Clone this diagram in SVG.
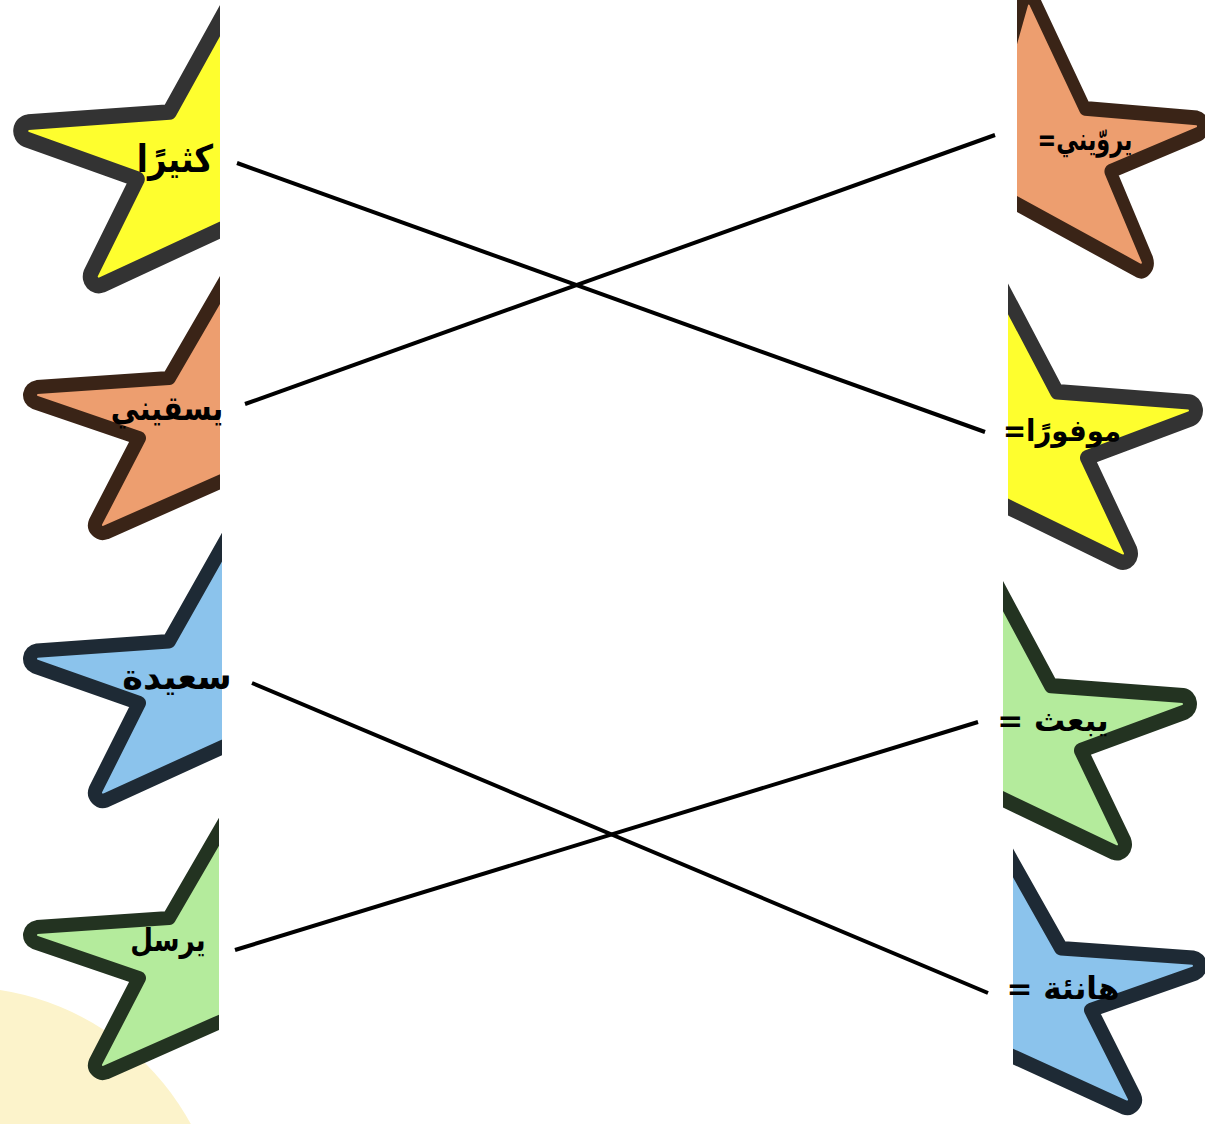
<svg xmlns="http://www.w3.org/2000/svg" xmlns:xlink="http://www.w3.org/1999/xlink" width="1205" height="1124" viewBox="0 0 1205 1124">
<style>
.lbl{font-family:"DejaVu Sans",sans-serif;font-weight:bold;fill:#000;text-anchor:middle;direction:rtl}
.conn{stroke:#000;stroke-width:4;fill:none}
.yel{fill:#fefe2e;stroke:#333333}
.ora{fill:#ed9e6f;stroke:#3a2417}
.blu{fill:#8bc3ec;stroke:#1e2a35}
.grn{fill:#b4eb9c;stroke:#233321}
.st{stroke-width:14;stroke-linejoin:round}
</style>
<defs>
<path id="star" d="M65.4,-94.5 L6,8 L-126,17.1 A8 8 0 0 0 -128.1,32.4 L-24,68 L-67.4,151.9 A8 8 0 0 0 -57.3,162.5 L95,95 L200,170 L135,25 L250,-30 L110,-5 L79.3,-93.3 A8 8 0 0 0 65.4,-94.5 Z"/>
<clipPath id="cl1" clipPathUnits="userSpaceOnUse"><rect x="0" y="0" width="220" height="1124"/></clipPath>
<clipPath id="cl3" clipPathUnits="userSpaceOnUse"><rect x="0" y="0" width="222" height="1124"/></clipPath>
<clipPath id="cl4" clipPathUnits="userSpaceOnUse"><rect x="0" y="0" width="219" height="1124"/></clipPath>
<clipPath id="cr1" clipPathUnits="userSpaceOnUse"><rect x="1017" y="0" width="200" height="1124"/></clipPath>
<clipPath id="cr2" clipPathUnits="userSpaceOnUse"><rect x="1008" y="0" width="200" height="1124"/></clipPath>
<clipPath id="cr3" clipPathUnits="userSpaceOnUse"><rect x="1003" y="0" width="210" height="1124"/></clipPath>
<clipPath id="cr4" clipPathUnits="userSpaceOnUse"><rect x="1013" y="0" width="200" height="1124"/></clipPath>
</defs>
<rect width="1205" height="1124" fill="#ffffff"/>
<circle cx="-40" cy="1250" r="263" fill="#fcf3cb"/>

<g id="left-1">
<g clip-path="url(#cl1)"><use xlink:href="#star" class="yel st" transform="translate(163,103) scale(1.07,1.12)"/></g>
<text class="lbl" font-size="38" transform="translate(175,172) scale(0.85,1)">كثيرًا</text>
</g>
<g id="left-2">
<g clip-path="url(#cl1)"><use xlink:href="#star" class="ora st" transform="translate(163,370)"/></g>
<text class="lbl" font-size="34" transform="translate(167,420) scale(0.84,1)">يسقيني</text>
</g>
<g id="left-3">
<g clip-path="url(#cl3)"><use xlink:href="#star" class="blu st" transform="translate(163,633) scale(1,1.03)"/></g>
<text class="lbl" font-size="35" transform="translate(177,689)">سعيدة</text>
</g>
<g id="left-4">
<g clip-path="url(#cl4)"><use xlink:href="#star" class="grn st" transform="translate(163,910)"/></g>
<text class="lbl" font-size="32" transform="translate(168,951) scale(0.82,1)">يرسل</text>
</g>

<g id="right-1">
<g clip-path="url(#cr1)"><use xlink:href="#star" class="ora st" transform="translate(1090,100) scale(-0.85,1.05)"/></g>
<text class="lbl" font-size="31" transform="translate(1085,150) scale(0.72,1)">يروّيني=</text>
</g>
<g id="right-2">
<g clip-path="url(#cr2)"><use xlink:href="#star" class="yel st" transform="translate(1063,383) scale(-1,1.1)"/></g>
<text class="lbl" font-size="30" transform="translate(1062,441) scale(0.92,1)">موفورًا=</text>
</g>
<g id="right-3">
<g clip-path="url(#cr3)"><use xlink:href="#star" class="grn st" transform="translate(1057,677) scale(-1,1.08)"/></g>
<text class="lbl" font-size="31" transform="translate(1053,731)">يبعث =</text>
</g>
<g id="right-4">
<g clip-path="url(#cr4)"><use xlink:href="#star" class="blu st" transform="translate(1067,940) scale(-1,1.03)"/></g>
<text class="lbl" font-size="31" transform="translate(1063,999)">هانئة =</text>
</g>

<g id="connectors">
<line class="conn" x1="237" y1="163" x2="985" y2="432"/>
<line class="conn" x1="245" y1="404" x2="995" y2="135"/>
<line class="conn" x1="252" y1="683" x2="988" y2="993"/>
<line class="conn" x1="235" y1="950" x2="978" y2="722"/>
</g>
</svg>
